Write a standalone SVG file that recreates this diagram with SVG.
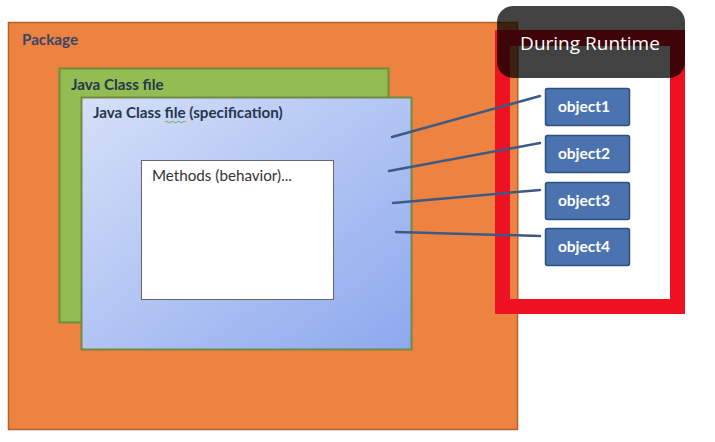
<svg xmlns="http://www.w3.org/2000/svg" width="715" height="442" viewBox="0 0 715 442">
<defs>
<linearGradient id="blueGrad" x1="0" y1="0" x2="1" y2="1">
<stop offset="0" stop-color="#D6E0F8"/>
<stop offset="1" stop-color="#8CA8EE"/>
</linearGradient>
<style>
.lbl{font-family:Lato,"Liberation Sans",sans-serif;font-weight:bold;font-size:15.2px;fill:#26364E}
.obj rect{fill:#4A73AF;stroke:#2E4F80;stroke-width:1.5}
.obj text{font-family:Lato,"Liberation Sans",sans-serif;font-weight:bold;font-size:15.5px;fill:#FFFFFF;text-anchor:middle}
.conn line{stroke:#3E5A82;stroke-width:2.5;stroke-linecap:round}
</style>
</defs>
<rect width="715" height="442" fill="#FFFFFF"/>

<g id="package">
<rect x="8.5" y="22.5" width="509" height="407" fill="#EE8341" stroke="#B2622E" stroke-width="1.5"/>
<text class="lbl" x="22" y="45" style="fill:#34466A">Package</text>
</g>

<g id="java-class-file">
<rect x="59.5" y="68.5" width="329" height="254" fill="#93BD52" stroke="#6E8D3B" stroke-width="2"/>
<text class="lbl" x="71" y="90">Java Class file</text>
</g>

<g id="java-class-spec">
<rect x="81.5" y="97.5" width="330" height="252" fill="url(#blueGrad)" stroke="#6E8A45" stroke-width="2"/>
<text class="lbl" x="93" y="118">Java Class file (specification)</text>
<path d="M165 122 q1.5 -1.5 3 0 t3 0 t3 0 t3 0 t3 0 t3 0 t3 0" fill="none" stroke="#5BAA4E" stroke-width="0.9"/>
</g>

<g id="methods">
<rect x="141.5" y="160.5" width="192" height="139" fill="#FFFFFF" stroke="#666666" stroke-width="1"/>
<text x="152" y="181" style="font-family:Lato,'Liberation Sans',sans-serif;font-size:15.2px;fill:#333333">Methods (behavior)...</text>
</g>

<g id="runtime-frame">
<rect x="510" y="45" width="160" height="254" fill="#FFFFFF"/>
<rect x="510" y="45" width="8" height="254" fill="#EE8341"/>
<rect x="517" y="45" width="1.5" height="254" fill="#B2622E"/>
<path d="M495 30 H685 V314 H495 Z M510 46 V299 H670 V46 Z" fill="#EE1122" fill-rule="evenodd"/>
</g>

<g class="conn" id="connectors">
<line x1="392" y1="137" x2="540" y2="96"/>
<line x1="389" y1="171" x2="540" y2="143"/>
<line x1="393" y1="203" x2="540" y2="190"/>
<line x1="396" y1="232" x2="540" y2="236"/>
</g>

<g id="during-runtime">
<rect x="497" y="6" width="188" height="72" rx="16" ry="16" fill="#000000" fill-opacity="0.74"/>
<text x="590" y="50" style="font-family:'Open Sans','Liberation Sans',sans-serif;font-size:19px;fill:#FFFFFF;text-anchor:middle">During Runtime</text>
</g>

<g class="obj" id="object1">
<rect x="545.5" y="88.5" width="84" height="37" rx="2"/>
<text x="584" y="112">object1</text>
</g>
<g class="obj" id="object2">
<rect x="545.5" y="135.5" width="84" height="37" rx="2"/>
<text x="584" y="159">object2</text>
</g>
<g class="obj" id="object3">
<rect x="545.5" y="182.5" width="84" height="37" rx="2"/>
<text x="584" y="206">object3</text>
</g>
<g class="obj" id="object4">
<rect x="545.5" y="228.5" width="84" height="37" rx="2"/>
<text x="584" y="252">object4</text>
</g>
</svg>
